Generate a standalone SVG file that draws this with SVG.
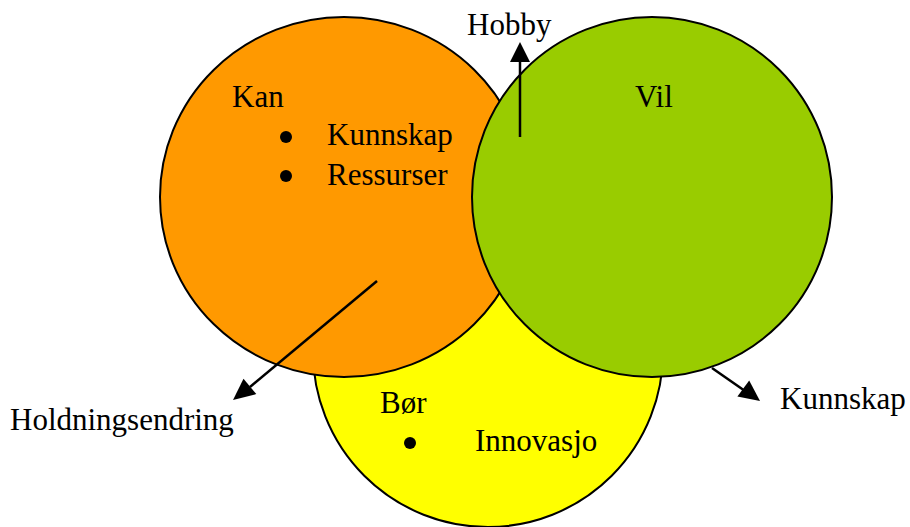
<svg xmlns="http://www.w3.org/2000/svg" width="910" height="527" viewBox="0 0 910 527">
<style>
.c{stroke:#000;stroke-width:2}
.t{font-family:'Liberation Serif','Times New Roman',Times,'Noto Serif','DejaVu Serif',serif;font-size:31px;fill:#000}
.ln{stroke:#000;stroke-width:2.5;fill:none}
</style>
<rect width="910" height="527" fill="#fff"/>
<g id="bor">
<circle class="c" cx="488" cy="352" r="175" fill="#FFFF00"/>
<text class="t" x="380" y="413">Bør</text>
<circle cx="410" cy="443" r="6" fill="#000"/>
<text class="t" x="475" y="451">Innovasjo</text>
</g>
<g id="kan">
<ellipse class="c" cx="344" cy="197" rx="184" ry="180" fill="#FF9900"/>
<text class="t" x="232" y="107">Kan</text>
<circle cx="286" cy="137" r="6" fill="#000"/>
<text class="t" x="327" y="145">Kunnskap</text>
<circle cx="286" cy="176" r="6" fill="#000"/>
<text class="t" x="327" y="185">Ressurser</text>
</g>
<g id="vil">
<circle class="c" cx="652" cy="197" r="180" fill="#99CC00"/>
<text class="t" x="635" y="107">Vil</text>
</g>
<g id="connectors">
<line class="ln" x1="520" y1="137" x2="520" y2="62"/>
<path d="M510,62 L530,62 L520,42 Z" fill="#000"/>
<line class="ln" x1="377" y1="281" x2="250" y2="387"/>
<path d="M233,400 L243.5,378.8 L256.3,394.1 Z" fill="#000"/>
<line class="ln" x1="712" y1="368" x2="745" y2="391"/>
<path d="M760,401 L737.4,396.4 L749.2,380.6 Z" fill="#000"/>
</g>
<g id="labels">
<text class="t" x="467" y="35">Hobby</text>
<text class="t" x="10" y="430">Holdningsendring</text>
<text class="t" x="780" y="409">Kunnskap</text>
</g>
</svg>
